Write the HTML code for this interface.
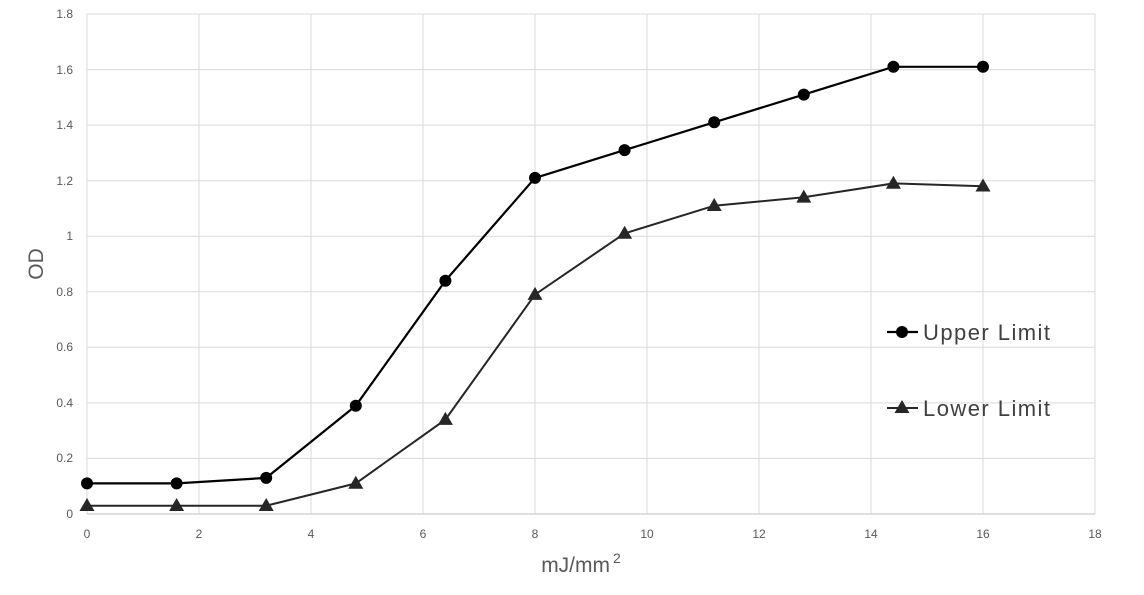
<!DOCTYPE html>
<html><head><style>body{margin:0;background:#fff}svg{display:block}</style></head><body>
<svg width="1144" height="595" xmlns="http://www.w3.org/2000/svg" font-family="Liberation Sans, sans-serif">
<g stroke="#d9d9d9" stroke-width="1">
<line x1="87" y1="14" x2="1095" y2="14"/><line x1="87" y1="69.6" x2="1095" y2="69.6"/><line x1="87" y1="125.1" x2="1095" y2="125.1"/><line x1="87" y1="180.7" x2="1095" y2="180.7"/><line x1="87" y1="236.2" x2="1095" y2="236.2"/><line x1="87" y1="291.8" x2="1095" y2="291.8"/><line x1="87" y1="347.3" x2="1095" y2="347.3"/><line x1="87" y1="402.9" x2="1095" y2="402.9"/><line x1="87" y1="458.4" x2="1095" y2="458.4"/>
<line x1="87" y1="14" x2="87" y2="514"/><line x1="199" y1="14" x2="199" y2="514"/><line x1="311" y1="14" x2="311" y2="514"/><line x1="423" y1="14" x2="423" y2="514"/><line x1="535" y1="14" x2="535" y2="514"/><line x1="647" y1="14" x2="647" y2="514"/><line x1="759" y1="14" x2="759" y2="514"/><line x1="871" y1="14" x2="871" y2="514"/><line x1="983" y1="14" x2="983" y2="514"/><line x1="1095" y1="14" x2="1095" y2="514"/>
</g>
<line x1="87" y1="514" x2="1095" y2="514" stroke="#bfbfbf"/>
<g font-size="12" fill="#595959" text-anchor="end">
<text x="73" y="18">1.8</text><text x="73" y="74">1.6</text><text x="73" y="129">1.4</text><text x="73" y="185">1.2</text><text x="73" y="240">1</text><text x="73" y="296">0.8</text><text x="73" y="351">0.6</text><text x="73" y="407">0.4</text><text x="73" y="462">0.2</text><text x="73" y="518">0</text>
</g>
<g font-size="12" fill="#595959" text-anchor="middle">
<text x="87" y="538">0</text><text x="199" y="538">2</text><text x="311" y="538">4</text><text x="423" y="538">6</text><text x="535" y="538">8</text><text x="647" y="538">10</text><text x="759" y="538">12</text><text x="871" y="538">14</text><text x="983" y="538">16</text><text x="1095" y="538">18</text>
</g>
<text x="581" y="572" font-size="21" fill="#595959" text-anchor="middle">mJ/mm<tspan font-size="14" dy="-9" dx="3">2</tspan></text>
<text transform="translate(43,264) rotate(-90)" font-size="21" fill="#595959" text-anchor="middle">OD</text>
<polyline fill="none" stroke="#000" stroke-width="2.2" points="87,483.4 176.6,483.4 266.2,477.9 355.8,405.7 445.4,280.7 535,177.9 624.6,150.1 714.2,122.3 803.8,94.6 893.4,66.8 983,66.8"/>
<g fill="#000">
<circle cx="87" cy="483.4" r="6"/><circle cx="176.6" cy="483.4" r="6"/><circle cx="266.2" cy="477.9" r="6"/><circle cx="355.8" cy="405.7" r="6"/><circle cx="445.4" cy="280.7" r="6"/><circle cx="535" cy="177.9" r="6"/><circle cx="624.6" cy="150.1" r="6"/><circle cx="714.2" cy="122.3" r="6"/><circle cx="803.8" cy="94.6" r="6"/><circle cx="893.4" cy="66.8" r="6"/><circle cx="983" cy="66.8" r="6"/>
</g>
<polyline fill="none" stroke="#262626" stroke-width="2" points="87,505.7 176.6,505.7 266.2,505.7 355.8,483.4 445.4,419.6 535,294.6 624.6,233.4 714.2,205.7 803.8,197.3 893.4,183.4 983,186.2"/>
<g fill="#262626">
<path d="M87,498l7.5,13h-15z"/><path d="M176.6,498l7.5,13h-15z"/><path d="M266.2,498l7.5,13h-15z"/><path d="M355.8,475.7l7.5,13h-15z"/><path d="M445.4,411.9l7.5,13h-15z"/><path d="M535,286.9l7.5,13h-15z"/><path d="M624.6,225.7l7.5,13h-15z"/><path d="M714.2,198l7.5,13h-15z"/><path d="M803.8,189.6l7.5,13h-15z"/><path d="M893.4,175.7l7.5,13h-15z"/><path d="M983,178.5l7.5,13h-15z"/>
</g>
<line x1="887" y1="332" x2="918" y2="332" stroke="#000" stroke-width="2.2"/>
<circle cx="902" cy="332" r="6"/>
<text x="923" y="340" font-size="22" fill="#404040" textLength="127" lengthAdjust="spacing">Upper Limit</text>
<line x1="887" y1="408" x2="918" y2="408" stroke="#262626" stroke-width="2"/>
<path d="M902,400l7.5,13h-15z" fill="#262626"/>
<text x="923" y="416" font-size="22" fill="#404040" textLength="127" lengthAdjust="spacing">Lower Limit</text>
</svg>
</body></html>
